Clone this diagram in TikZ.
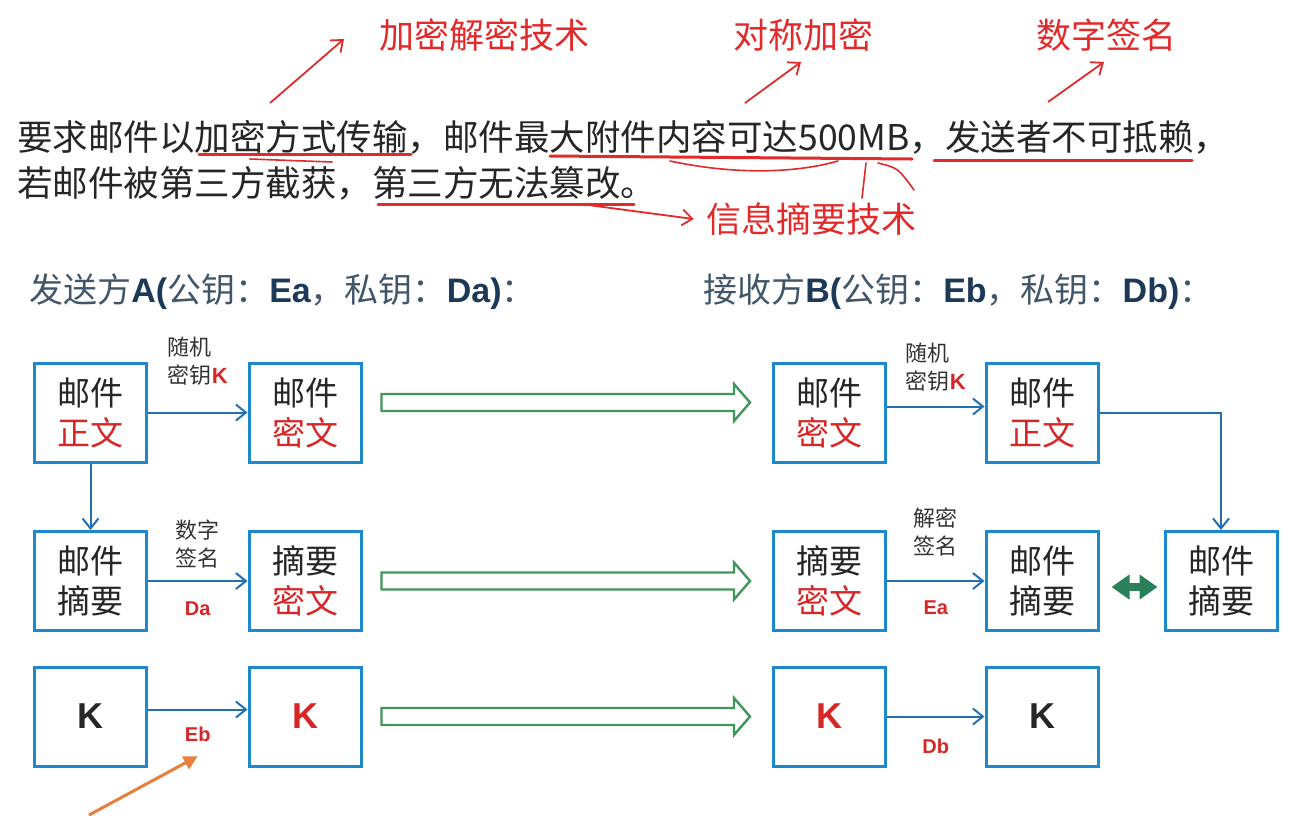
\documentclass[tikz,border=0pt]{standalone}
\usepackage{fontspec}
\setmainfont{Noto Sans CJK SC}
\newfontfamily\lat{Liberation Sans}
\usetikzlibrary{arrows.meta,positioning,calc}
\definecolor{MailBlue}{RGB}{30,136,204}
\definecolor{LineBlue}{RGB}{34,112,180}
\definecolor{MailRed}{RGB}{214,38,38}
\definecolor{MarkRed}{RGB}{226,42,42}
\definecolor{PipeGreen}{RGB}{66,150,92}
\definecolor{SwapGreen}{RGB}{42,128,88}
\definecolor{TitleNavy}{RGB}{28,58,88}
\definecolor{TitleSlate}{RGB}{66,86,106}
\definecolor{HintOrange}{RGB}{232,128,60}
\newcommand\keyK{{\lat\bfseries\color{MailRed}K}}
\newcommand\headlat[1]{{\lat\bfseries\color{TitleNavy}#1}}
\tikzset{
  mail/box/.style={
    draw=MailBlue,
    line width=1.5pt,
    fill=white,
    align=center,
    text=black!85,
    minimum width=56pt,
    minimum height=49.5pt,
    inner sep=0pt,
    font=\fontsize{16.5}{20}\selectfont
  },
  mail/keybox/.style={mail/box, font=\lat\bfseries\fontsize{18}{20}\selectfont},
  mail/flow/.style={draw=LineBlue, line width=1pt, -{Straight Barb[length=5pt,width=8pt]}},
  mail/pipe/.style={draw=PipeGreen, line width=1.2pt, fill=white},
  mail/swap/.style={draw=SwapGreen, line width=4pt, {Triangle[length=9pt,width=12pt]}-{Triangle[length=9pt,width=12pt]}},
  mail/hint/.style={draw=HintOrange, line width=1.5pt, -{Triangle[length=7pt,width=7pt]}},
  mail/tag/.style={font=\fontsize{11}{14}\selectfont, align=left, inner sep=1pt, text=black!80},
  mail/keyname/.style={font=\lat\bfseries\fontsize{10}{12}\selectfont, text=MailRed, inner sep=1pt},
  mail/task/.style={anchor=west, inner sep=0pt, text=black!85, font=\fontsize{17.75}{20}\selectfont},
  mail/head/.style={anchor=west, inner sep=0pt, text=TitleSlate, font=\fontsize{17}{20}\selectfont},
  mail/note/.style={inner sep=0pt, text=MarkRed, font=\fontsize{17.5}{20}\selectfont},
  mail/ink/.style={draw=MarkRed, line width=1.5pt, line cap=round},
  mail/pointer/.style={draw=MarkRed, line width=0.9pt, -{Straight Barb[length=5pt,width=8pt]}}
}
\begin{document}
\begin{tikzpicture}[x=0.5pt,y=-0.5pt]
  \useasboundingbox (0,0) rectangle (1295,815);

  % requirement text with teacher marks
  \node[mail/task] (task1) at (17,137) {要求邮件以加密方式传输，邮件最大附件内容可达500MB，发送者不可抵赖，};
  \node[mail/task] (task2) at (17,183) {若邮件被第三方截获，第三方无法篡改。};
  \node[mail/note] (notecrypt) at (484,35) {加密解密技术};
  \node[mail/note] (notesym) at (803,35) {对称加密};
  \node[mail/note] (notesign) at (1106,35) {数字签名};
  \node[mail/note] (notedigest) at (811,219) {信息摘要技术};

  \draw[mail/ink] (199,154) -- (411,154);
  \draw[mail/ink,line width=0.8pt] (250,159) -- (332,162);
  \draw[mail/ink] (550,156) -- (912,159);
  \draw[mail/ink,line width=0.8pt] (670,161) .. controls (740,176) and (800,172) .. (838,161);
  \draw[mail/ink] (934,160) -- (1192,160);
  \draw[mail/ink] (378,204) -- (634,204);
  \draw[mail/ink,line width=0.8pt] (866,163) -- (862,198);
  \draw[mail/ink,line width=0.8pt] (878,163) .. controls (898,168) .. (914,190);

  \coordinate (cryptfoot) at (270,103);
  \coordinate (crypttip) at (344,39);
  \coordinate (symfoot) at (745,103);
  \coordinate (symtip) at (801,62);
  \coordinate (signfoot) at (1048,102);
  \coordinate (signtip) at (1104,62);
  \coordinate (digestfoot) at (588,205);
  \draw[mail/pointer] (cryptfoot) -- (crypttip);
  \draw[mail/pointer] (symfoot) -- (symtip);
  \draw[mail/pointer] (signfoot) -- (signtip);
  \draw[mail/pointer] (digestfoot) -- ([xshift=-6pt]notedigest.west);

  % sender and receiver
  \node[mail/head] (headA) at (29,292) {发送方\headlat{A(}公钥：\headlat{Ea}，私钥：\headlat{Da)}：};
  \node[mail/head] (headB) at (703,292) {接收方\headlat{B(}公钥：\headlat{Eb}，私钥：\headlat{Db)}：};

  \node[mail/box] (a1) at (90.5,412.5) {邮件\\\textcolor{MailRed}{正文}};
  \node[mail/box] (a2) at (305,412.5) {邮件\\\textcolor{MailRed}{密文}};
  \node[mail/box] (a3) at (90.5,581) {邮件\\摘要};
  \node[mail/box] (a4) at (305,581) {摘要\\\textcolor{MailRed}{密文}};
  \node[mail/keybox] (a5) at (90.5,716.5) {K};
  \node[mail/keybox,text=MailRed] (a6) at (305,716.5) {K};

  \node[mail/box] (b1) at (829.5,412.5) {邮件\\\textcolor{MailRed}{密文}};
  \node[mail/box] (b2) at (1042,412.5) {邮件\\\textcolor{MailRed}{正文}};
  \node[mail/box] (b3) at (829.5,581) {摘要\\\textcolor{MailRed}{密文}};
  \node[mail/box] (b4) at (1042,581) {邮件\\摘要};
  \node[mail/box] (b5) at (1221,581) {邮件\\摘要};
  \node[mail/keybox,text=MailRed] (b6) at (829.5,716.5) {K};
  \node[mail/keybox] (b7) at (1042,716.5) {K};

  \draw[mail/flow] (a1) -- node[mail/tag,above=12pt] {随机\\密钥\keyK} (a2);
  \draw[mail/flow] (a1) -- (a3);
  \draw[mail/flow] (a3) -- node[mail/tag,above=5pt] {数字\\签名} node[mail/keyname,below=9pt] {Da} (a4);
  \draw[mail/flow] ([yshift=3.5pt]a5.east) -- node[mail/keyname,below=7pt] (ebtag) {Eb} ([yshift=3.5pt]a6.west);

  \draw[mail/flow] ([yshift=3pt]b1.east) -- node[mail/tag,above=6pt] {随机\\密钥\keyK} ([yshift=3pt]b2.west);
  \draw[mail/flow] (b2.east) -| (b5.north);
  \draw[mail/flow] (b3) -- node[mail/tag,above=11pt] {解密\\签名} node[mail/keyname,below=8.5pt] {Ea} (b4);
  \draw[mail/flow] (b6) -- node[mail/keyname,below=9.5pt] {Db} (b7);
  \draw[mail/swap,shorten <=6pt,shorten >=3pt] ([yshift=-3pt]b4.east) -- ([yshift=-3pt]b5.west);

  % hollow transfer arrows
  \foreach \src/\dst/\dy in {a2/b1/-10, a4/b3/0, a6/b6/0}{
    \draw[mail/pipe] ($(\src.east)+(19,\dy-8.5)$) -- ($(\dst.west)+(-38,\dy-8.5)$)
      -- ($(\dst.west)+(-38,\dy-18.5)$) -- ($(\dst.west)+(-22,\dy)$)
      -- ($(\dst.west)+(-38,\dy+18.5)$) -- ($(\dst.west)+(-38,\dy+8.5)$)
      -- ($(\src.east)+(19,\dy+8.5)$) -- cycle;
  }

  \coordinate (hintfoot) at (89,815);
  \draw[mail/hint] (hintfoot) -- ([yshift=-6pt]ebtag.south);
\end{tikzpicture}
\end{document}
